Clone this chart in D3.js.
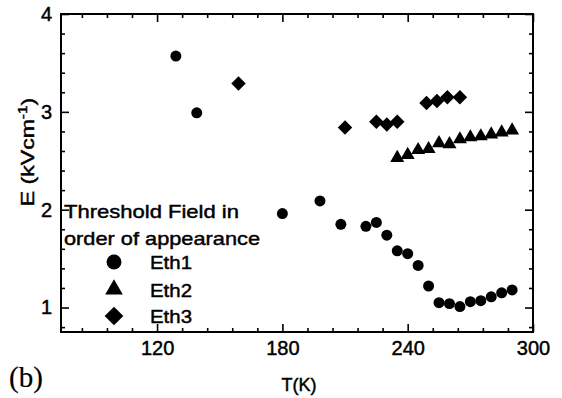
<!DOCTYPE html>
<html>
<head>
<meta charset="utf-8">
<script src="https://cdn.jsdelivr.net/npm/d3@7/dist/d3.min.js"></script>
<style>
  html, body { margin: 0; padding: 0; background: #fff; }
  svg { display: block; }
  text { font-family: "Liberation Sans", Arial, sans-serif; fill: #000; stroke: #000; stroke-width: 0.45px; }
</style>
</head>
<body>
<svg id="chart" width="562" height="398"></svg>
<script>
// Threshold fields vs temperature
const T1 = [129, 139, 180, 198, 208, 220, 225, 230, 235, 240, 245, 250, 255, 260, 265, 270, 275, 280, 285, 290];
const E1 = [3.57, 2.99, 1.96, 2.09, 1.85, 1.83, 1.87, 1.74, 1.58, 1.55, 1.43, 1.22, 1.05, 1.04, 1.01, 1.06, 1.07, 1.11, 1.15, 1.18];
const T2 = [235, 240, 245, 250, 255, 260, 265, 270, 275, 280, 285, 290];
const E2 = [2.53, 2.56, 2.61, 2.62, 2.68, 2.67, 2.72, 2.74, 2.75, 2.77, 2.79, 2.81];
const T3 = [159, 210, 225, 230, 235, 249, 254, 259, 265];
const E3 = [3.29, 2.84, 2.90, 2.87, 2.90, 3.09, 3.11, 3.15, 3.15];
const seriesNames = ["Eth1", "Eth2", "Eth3"];
const xTicks = [120, 180, 240, 300];
const yTicks = [1, 2, 3, 4];
const legendTitle = ["Threshold Field in", "order of appearance"];

const svg = d3.select("#chart");
const L = 61, R = 533, TOP = 14, B = 332;

const x = d3.scaleLinear().domain([74, 300]).range([L, R]);
const y = d3.scaleLinear().domain([0.75, 4]).range([B, TOP]);

const xMinor = d3.range(84, 300, 12).filter(v => !xTicks.includes(v));
const yMinor = d3.range(8, 40, 2).map(v => v / 10).filter(v => !yTicks.includes(v));

function styleAxis(g) {
  g.select(".domain").remove();
  g.selectAll(".tick line").attr("stroke", "#000").attr("stroke-width", 1.6);
  g.selectAll(".tick text")
    .style("font-family", "Liberation Sans, Arial, sans-serif")
    .style("font-size", "20px").attr("fill", "#000");
}

// bottom
svg.append("g").attr("transform", `translate(0,${B})`)
  .call(d3.axisBottom(x).tickValues(xTicks).tickSize(-8).tickPadding(9).tickFormat(d3.format("d")))
  .call(styleAxis);
svg.append("g").attr("transform", `translate(0,${B})`)
  .call(d3.axisBottom(x).tickValues(xMinor).tickSize(-4).tickFormat(""))
  .call(styleAxis);
// top
svg.append("g").attr("transform", `translate(0,${TOP})`)
  .call(d3.axisTop(x).tickValues(xTicks).tickSize(-8).tickFormat(""))
  .call(styleAxis);
svg.append("g").attr("transform", `translate(0,${TOP})`)
  .call(d3.axisTop(x).tickValues(xMinor).tickSize(-4).tickFormat(""))
  .call(styleAxis);
// left
svg.append("g").attr("transform", `translate(${L},0)`)
  .call(d3.axisLeft(y).tickValues(yTicks).tickSize(-8).tickPadding(9).tickFormat(d3.format("d")))
  .call(styleAxis);
svg.append("g").attr("transform", `translate(${L},0)`)
  .call(d3.axisLeft(y).tickValues(yMinor).tickSize(-4).tickFormat(""))
  .call(styleAxis);
// right
svg.append("g").attr("transform", `translate(${R},0)`)
  .call(d3.axisRight(y).tickValues(yTicks).tickSize(-8).tickFormat(""))
  .call(styleAxis);
svg.append("g").attr("transform", `translate(${R},0)`)
  .call(d3.axisRight(y).tickValues(yMinor).tickSize(-4).tickFormat(""))
  .call(styleAxis);

// frame
svg.append("rect").attr("x", L).attr("y", TOP).attr("width", R - L).attr("height", B - TOP)
  .attr("fill", "none").attr("stroke", "#000").attr("stroke-width", 2);

// markers
const circle = d3.symbol().type(d3.symbolCircle);
const tri = d3.symbol().type(d3.symbolTriangle);
const square = d3.symbol().type(d3.symbolSquare);

function plot(Ts, Es, sym, size, rot) {
  svg.append("g").selectAll("path")
    .data(Ts.map((t, i) => [t, Es[i]]))
    .join("path")
    .attr("d", sym.size(size)())
    .attr("transform", d => `translate(${x(d[0])},${y(d[1])}) rotate(${rot})`)
    .attr("fill", "#000");
}
plot(T1, E1, circle, 95, 0);
plot(T2, E2, tri, 85, 0);
plot(T3, E3, square, 105, 45);

// legend
svg.append("text").attr("x", 64).attr("y", 218).style("font-size", "19px")
  .attr("textLength", 175).attr("lengthAdjust", "spacingAndGlyphs").text(legendTitle[0]);
svg.append("text").attr("x", 64).attr("y", 245).style("font-size", "19px")
  .attr("textLength", 196).attr("lengthAdjust", "spacingAndGlyphs").text(legendTitle[1]);

const legendSyms = [
  { sym: circle, size: 175, rot: 0 },
  { sym: tri, size: 135, rot: 0 },
  { sym: square, size: 175, rot: 45 }
];
const legendY = [269, 296.5, 323];
seriesNames.forEach((name, i) => {
  const s = legendSyms[i];
  svg.append("path").attr("d", s.sym.size(s.size)())
    .attr("transform", `translate(114,${legendY[i] - 7}) rotate(${s.rot})`)
    .attr("fill", "#000");
  svg.append("text").attr("x", 150).attr("y", legendY[i]).style("font-size", "19px")
    .attr("textLength", 42).attr("lengthAdjust", "spacingAndGlyphs").text(name);
});

// axis titles
svg.append("text").attr("x", 299).attr("y", 391).attr("text-anchor", "middle")
  .style("font-size", "18px").text("T(K)");

const yt = svg.append("g").attr("transform", "translate(34,152) rotate(-90) scale(1.28,1)");
const ytText = yt.append("text").attr("text-anchor", "middle").style("font-size", "18px");
ytText.append("tspan").text("E (kVcm");
ytText.append("tspan").attr("dy", -7).style("font-size", "12px").text("-1");
ytText.append("tspan").attr("dy", 7).text(")");

// panel label
svg.append("text").attr("x", 9).attr("y", 387)
  .style("font-family", "Liberation Serif, 'Times New Roman', serif")
  .style("font-size", "29px").style("stroke-width", "0.2px").text("(b)");
</script>
</body>
</html>
